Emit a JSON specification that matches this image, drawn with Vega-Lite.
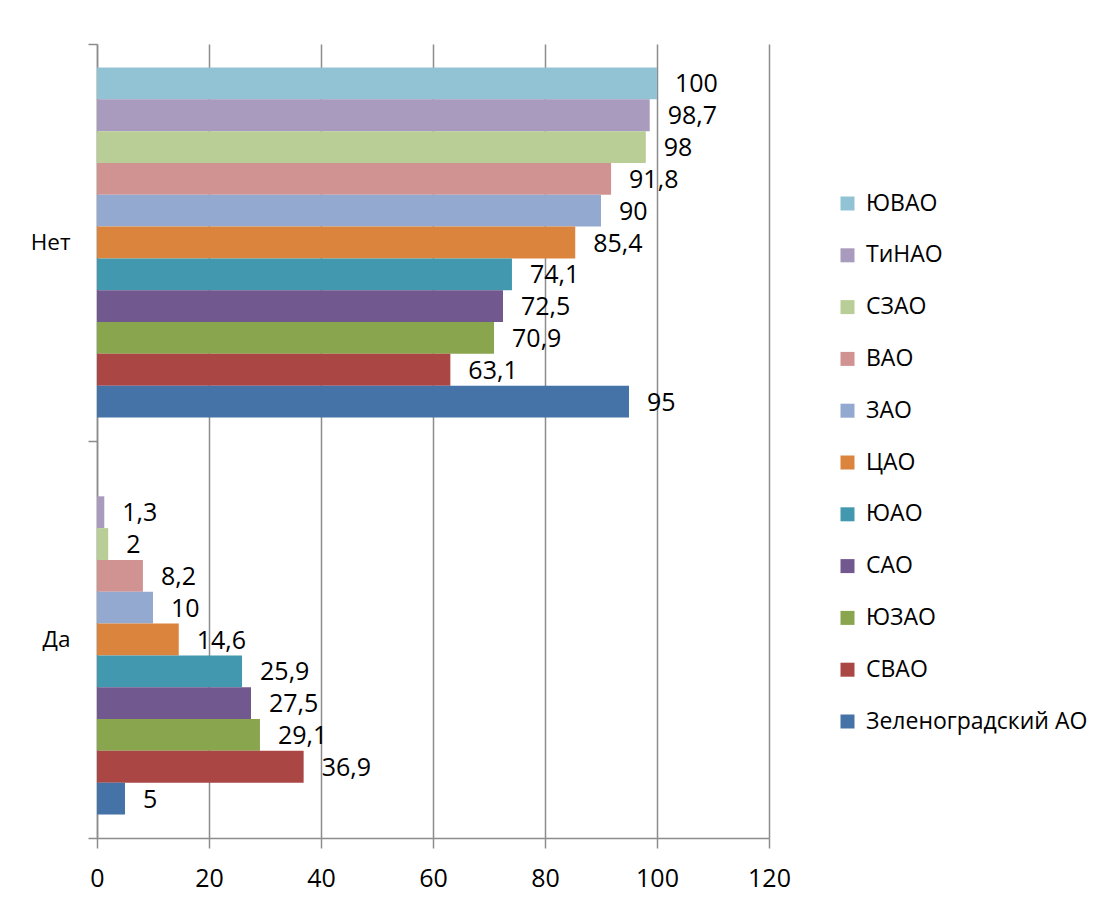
{
  "$schema": "https://vega.github.io/schema/vega-lite/v6.json",
  "width": 672,
  "height": 794,
  "autosize": {"type": "none"},
  "padding": {"left": 97, "top": 44, "right": 347, "bottom": 66},
  "config": {
    "view": {"stroke": null},
    "font": "Open Sans",
    "locale": {"number": {"decimal": ",", "thousands": " ", "grouping": [3], "currency": ["", ""]}}
  },
  "data": {
    "values": [
      {"answer": "Нет", "district": "ЮВАО", "value": 100},
      {"answer": "Нет", "district": "ТиНАО", "value": 98.7},
      {"answer": "Нет", "district": "СЗАО", "value": 98},
      {"answer": "Нет", "district": "ВАО", "value": 91.8},
      {"answer": "Нет", "district": "ЗАО", "value": 90},
      {"answer": "Нет", "district": "ЦАО", "value": 85.4},
      {"answer": "Нет", "district": "ЮАО", "value": 74.1},
      {"answer": "Нет", "district": "САО", "value": 72.5},
      {"answer": "Нет", "district": "ЮЗАО", "value": 70.9},
      {"answer": "Нет", "district": "СВАО", "value": 63.1},
      {"answer": "Нет", "district": "Зеленоградский АО", "value": 95},
      {"answer": "Да", "district": "ТиНАО", "value": 1.3},
      {"answer": "Да", "district": "СЗАО", "value": 2},
      {"answer": "Да", "district": "ВАО", "value": 8.2},
      {"answer": "Да", "district": "ЗАО", "value": 10},
      {"answer": "Да", "district": "ЦАО", "value": 14.6},
      {"answer": "Да", "district": "ЮАО", "value": 25.9},
      {"answer": "Да", "district": "САО", "value": 27.5},
      {"answer": "Да", "district": "ЮЗАО", "value": 29.1},
      {"answer": "Да", "district": "СВАО", "value": 36.9},
      {"answer": "Да", "district": "Зеленоградский АО", "value": 5}
    ]
  },
  "encoding": {
    "y": {
      "field": "answer",
      "type": "nominal",
      "sort": ["Нет", "Да"],
      "scale": {"paddingInner": 0, "paddingOuter": 0},
      "axis": {
        "title": null,
        "labelFontSize": 22.5,
        "labelColor": "#000000",
        "labelPadding": 18,
        "tickSize": 9,
        "tickBand": "extent",
        "tickColor": "#8c8c8c",
        "domainColor": "#8c8c8c",
        "domainWidth": 1.5,
        "tickWidth": 1.5,
        "grid": false
      }
    },
    "yOffset": {
      "field": "district",
      "type": "nominal",
      "scale": {
        "domain": ["ЮВАО", "ТиНАО", "СЗАО", "ВАО", "ЗАО", "ЦАО", "ЮАО", "САО", "ЮЗАО", "СВАО", "Зеленоградский АО"],
        "paddingInner": 0,
        "paddingOuter": 0.738
      }
    },
    "x": {
      "field": "value",
      "type": "quantitative",
      "scale": {"domain": [0, 120], "nice": false},
      "axis": {
        "title": null,
        "values": [0, 20, 40, 60, 80, 100, 120],
        "grid": true,
        "gridColor": "#8c8c8c",
        "gridWidth": 1.5,
        "domainColor": "#8c8c8c",
        "domainWidth": 1.5,
        "tickColor": "#8c8c8c",
        "tickWidth": 1.5,
        "tickSize": 10,
        "labelFontSize": 25,
        "labelColor": "#000000",
        "labelPadding": 18,
        "labelFlush": false,
        "labelOverlap": false,
        "format": "d"
      }
    }
  },
  "layer": [
    {
      "mark": {"type": "bar"},
      "encoding": {
        "color": {
          "field": "district",
          "type": "nominal",
          "scale": {
            "domain": ["ЮВАО", "ТиНАО", "СЗАО", "ВАО", "ЗАО", "ЦАО", "ЮАО", "САО", "ЮЗАО", "СВАО", "Зеленоградский АО"],
            "range": ["#91C3D5", "#A99BBD", "#B9CD96", "#D19392", "#93A9CF", "#DB843D", "#4198AF", "#71588F", "#89A54E", "#AA4643", "#4572A7"]
          },
          "legend": {
            "title": null,
            "orient": "none",
            "legendX": 739,
            "legendY": 148,
            "symbolType": "square",
            "symbolSize": 196,
            "symbolStrokeWidth": 0,
            "symbolOpacity": 1,
            "labelFontSize": 23,
            "labelColor": "#000000",
            "labelOffset": 7,
            "rowPadding": 27.8,
            "labelLimit": 400
          }
        }
      }
    },
    {
      "mark": {"type": "text", "align": "left", "baseline": "middle", "dx": 18, "dy": 1, "fontSize": 25, "color": "#000000"},
      "encoding": {
        "text": {"field": "value", "type": "quantitative", "format": ".1~f"}
      }
    }
  ]
}
